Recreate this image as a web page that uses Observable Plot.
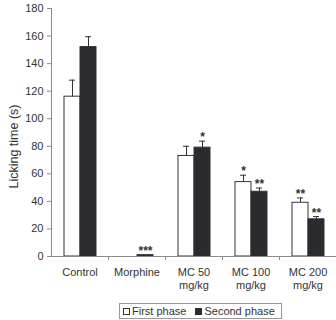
<!DOCTYPE html>
<html>
<head>
<meta charset="utf-8">
<script src="https://cdn.jsdelivr.net/npm/d3@7"></script>
<script src="https://cdn.jsdelivr.net/npm/@observablehq/plot@0.6"></script>
<style>
  body { margin: 0; background: #fff; font-family: "Liberation Sans", Arial, sans-serif; }
  #legend {
    display: inline-flex; align-items: center; box-sizing: border-box;
    margin: 3px 0 0 119px; height: 16px; padding: 0 6px 0 3px;
    border: 1px solid #999; font-size: 11px; color: #333; white-space: nowrap;
  }
  #legend .sw { display: inline-block; width: 7px; height: 7px; box-sizing: border-box; margin-right: 2px; }
  #legend .first { border: 1px solid #333; background: #fff; }
  #legend .second { background: #2b2b2f; margin-left: 9px; }
</style>
</head>
<body>
<div id="chart"></div>
<div id="legend"><span class="sw first"></span>First phase<span class="sw second"></span>Second phase</div>
<script>
// Treatment groups (tick labels) and the two phases of the formalin test
const groups = ["Control", "Morphine", "MC 50\nmg/kg", "MC 100\nmg/kg", "MC 200\nmg/kg"];
const phases = ["First phase", "Second phase"];

// Mean licking time (s) and SEM per group
const firstPhase  = [116, 0, 73, 54, 39];
const firstErr    = [12, 0, 7, 5, 3.5];
const secondPhase = [152, 1, 79, 47, 27];
const secondErr   = [7.5, 0, 4.7, 2.7, 2];

// Significance markers
const firstSig  = ["", "", "", "*", "**"];
const secondSig = ["", "***", "*", "**", "**"];

const yTicks = [0, 20, 40, 60, 80, 100, 120, 140, 160, 180];

const rows = groups.flatMap((g, i) => [
  {group: g, phase: phases[0], value: firstPhase[i], err: firstErr[i], sig: firstSig[i]},
  {group: g, phase: phases[1], value: secondPhase[i], err: secondErr[i], sig: secondSig[i]}
]);
const withErr = rows.filter(d => d.err > 0);

const ink = "#333";
const axisGrey = "#8c8c8c";

const plot = Plot.plot({
  width: 336,
  height: 300,
  marginLeft: 51,
  marginRight: 0,
  marginTop: 8,
  marginBottom: 44,
  style: {fontFamily: "'Liberation Sans', Arial, sans-serif", fontSize: "11px", color: ink, background: "#fff"},
  fx: {domain: groups, padding: 0, label: null, axis: null},
  x: {domain: phases, paddingInner: 0, paddingOuter: 0.73, axis: null},
  y: {domain: [0, 180], axis: null},
  color: {domain: phases, range: ["#ffffff", "#2b2b2f"]},
  marks: [
    Plot.axisY({ticks: yTicks, tickSize: 4, tickPadding: 4, stroke: axisGrey, fill: ink,
      label: "Licking time (s)", labelAnchor: "center", labelOffset: 42, labelArrow: "none", fontSize: 11}),
    Plot.axisFx({anchor: "bottom", tickSize: 0, tickPadding: 10, label: null, lineHeight: 1.2, fill: ink, fontSize: 11}),
    Plot.barY(rows, {fx: "group", x: "phase", y: "value", fill: "phase", stroke: ink, strokeWidth: 1}),
    Plot.ruleX(withErr, {fx: "group", x: "phase", y1: "value", y2: d => d.value + d.err, stroke: ink, strokeWidth: 1}),
    Plot.tickY(withErr, {fx: "group", x: "phase", y: d => d.value + d.err, stroke: ink, strokeWidth: 1, insetLeft: 5, insetRight: 5}),
    Plot.ruleY([0], {stroke: axisGrey}),
    Plot.text(rows.filter(d => d.sig), {fx: "group", x: "phase", y: d => d.value + d.err, text: "sig",
      lineAnchor: "bottom", dy: 0, fontSize: 12, fontWeight: "bold", fill: ink})
  ]
});

document.getElementById("chart").appendChild(plot);

const svg = d3.select(plot);
// the axis title is set a little larger and sits a little below the middle of the frame
const label = svg.select("[aria-label='y-axis label']");
if (!label.empty()) {
  const node = label.node();
  const wrap = document.createElementNS("http://www.w3.org/2000/svg", "g");
  wrap.setAttribute("transform", "translate(0,14)");
  node.parentNode.insertBefore(wrap, node);
  wrap.appendChild(node);
  label.attr("font-size", 12.5);
}

// y-axis line and the group-separating ticks on the category axis
const fxScale = plot.scale("fx");
const yScale = plot.scale("y");
const axes = svg.append("g").attr("stroke", axisGrey).attr("stroke-width", 1);
const x0 = fxScale.range[0] + 0.5;
const yBase = yScale.apply(0);
axes.append("line").attr("x1", x0).attr("x2", x0).attr("y1", yBase + 0.5).attr("y2", yScale.apply(180));
groups.forEach(g => {
  const xr = Math.round(fxScale.apply(g) + fxScale.bandwidth) + 0.5;
  axes.append("line").attr("x1", xr).attr("x2", xr).attr("y1", yBase).attr("y2", yBase + 4);
});
</script>
</body>
</html>
